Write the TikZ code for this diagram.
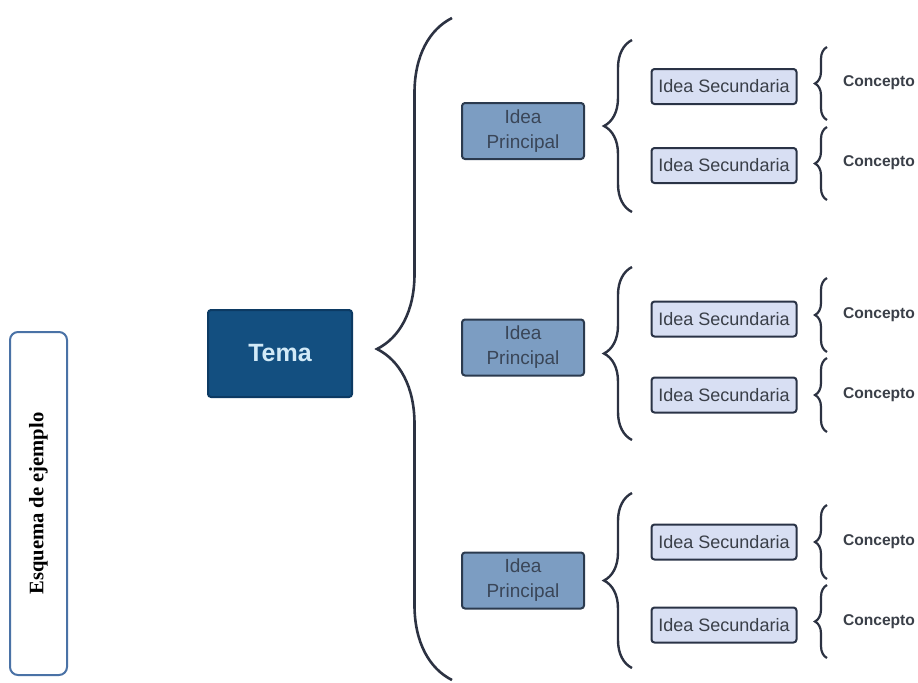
\documentclass[tikz,border=0pt]{standalone}
\usepackage{fontspec}
\setmainfont{Liberation Sans}
\newfontfamily\marcofont{Liberation Serif}
\usepackage{xcolor}
\usepackage{tikz}
\usetikzlibrary{decorations.pathreplacing}

\definecolor{temafill}{HTML}{134F80}
\definecolor{temaline}{HTML}{0C3A63}
\definecolor{tematext}{HTML}{D2EAF7}
\definecolor{prinfill}{HTML}{7C9DC2}
\definecolor{prinline}{HTML}{2B3A4E}
\definecolor{printext}{HTML}{3A4658}
\definecolor{secfill}{HTML}{D8DFF3}
\definecolor{secline}{HTML}{2A3346}
\definecolor{sectext}{HTML}{3A3F48}
\definecolor{marcoline}{HTML}{4A72A6}
\definecolor{llave}{HTML}{2C3242}

\begin{document}
\begin{tikzpicture}[x=0.5pt,y=-0.5pt,
  marco/.style={draw=marcoline,line width=1pt,rounded corners=4pt,fill=white,minimum width=28.5pt,minimum height=171.5pt,inner sep=0pt},
  tema/.style={draw=temaline,line width=1pt,fill=temafill,rounded corners=1.5pt,minimum width=72pt,minimum height=43.5pt,text=tematext,font=\fontsize{12.5}{14}\selectfont\bfseries},
  principal/.style={draw=prinline,line width=1pt,fill=prinfill,rounded corners=1.5pt,minimum width=61pt,minimum height=28pt,inner sep=0pt,text=printext,align=center,font=\fontsize{9.5}{12.5}\selectfont},
  secundaria/.style={draw=secline,line width=1pt,fill=secfill,rounded corners=1.5pt,minimum width=72.5pt,minimum height=17.5pt,inner sep=0pt,text=sectext,font=\fontsize{9}{11}\selectfont},
  concepto/.style={text=sectext,inner sep=0pt,font=\fontsize{7.8}{9}\selectfont\bfseries},
  llavegrande/.style={draw=llave,line width=1.3pt,decorate,decoration={brace,amplitude=37.5pt}},
  llavemedia/.style={draw=llave,line width=1.2pt,decorate,decoration={brace,amplitude=14pt}},
  llavechica/.style={draw=llave,line width=1.1pt,decorate,decoration={brace,amplitude=6pt}}]
\useasboundingbox (0,0) rectangle (918,682);
\node[marco] (marco) at (38.5,503.5) {};
\node[rotate=90,font=\marcofont\fontsize{10.3}{12}\selectfont\bfseries] (titulo) at (marco.center) {Esquema de ejemplo};
\node[tema] (tema) at (280,353.5) {Tema};
\coordinate (gb) at (452,680);
\coordinate (ga) at (452,18);
\draw[llavegrande] (gb) -- (ga);
\node[principal] (p1) at (523,131) {Idea\\Principal};
\node[principal] (p2) at (523,347.5) {Idea\\Principal};
\node[principal] (p3) at (523,580.5) {Idea\\Principal};
\coordinate (m1b) at (632,212);
\coordinate (m1a) at (632,40);
\coordinate (m2b) at (632,440);
\coordinate (m2a) at (632,267);
\coordinate (m3b) at (632,668);
\coordinate (m3a) at (632,493);
\draw[llavemedia] (m1b) -- (m1a);
\draw[llavemedia] (m2b) -- (m2a);
\draw[llavemedia] (m3b) -- (m3a);
\node[secundaria] (s1) at (724,86.5) {Idea Secundaria};
\node[secundaria] (s2) at (724,165.5) {Idea Secundaria};
\node[secundaria] (s3) at (724,319) {Idea Secundaria};
\node[secundaria] (s4) at (724,395) {Idea Secundaria};
\node[secundaria] (s5) at (724,542) {Idea Secundaria};
\node[secundaria] (s6) at (724,625) {Idea Secundaria};
\coordinate (c1b) at (827,120);
\coordinate (c1a) at (827,47);
\coordinate (c2b) at (827,200);
\coordinate (c2a) at (827,127);
\coordinate (c3b) at (827,352);
\coordinate (c3a) at (827,278);
\coordinate (c4b) at (827,432);
\coordinate (c4a) at (827,358);
\coordinate (c5b) at (827,579);
\coordinate (c5a) at (827,505);
\coordinate (c6b) at (827,658);
\coordinate (c6a) at (827,585);
\draw[llavechica] (c1b) -- (c1a);
\draw[llavechica] (c2b) -- (c2a);
\draw[llavechica] (c3b) -- (c3a);
\draw[llavechica] (c4b) -- (c4a);
\draw[llavechica] (c5b) -- (c5a);
\draw[llavechica] (c6b) -- (c6a);
\node[concepto] (k1) at (879,83) {Concepto};
\node[concepto] (k2) at (879,163) {Concepto};
\node[concepto] (k3) at (879,315) {Concepto};
\node[concepto] (k4) at (879,395) {Concepto};
\node[concepto] (k5) at (879,542) {Concepto};
\node[concepto] (k6) at (879,622) {Concepto};
\end{tikzpicture}
\end{document}
